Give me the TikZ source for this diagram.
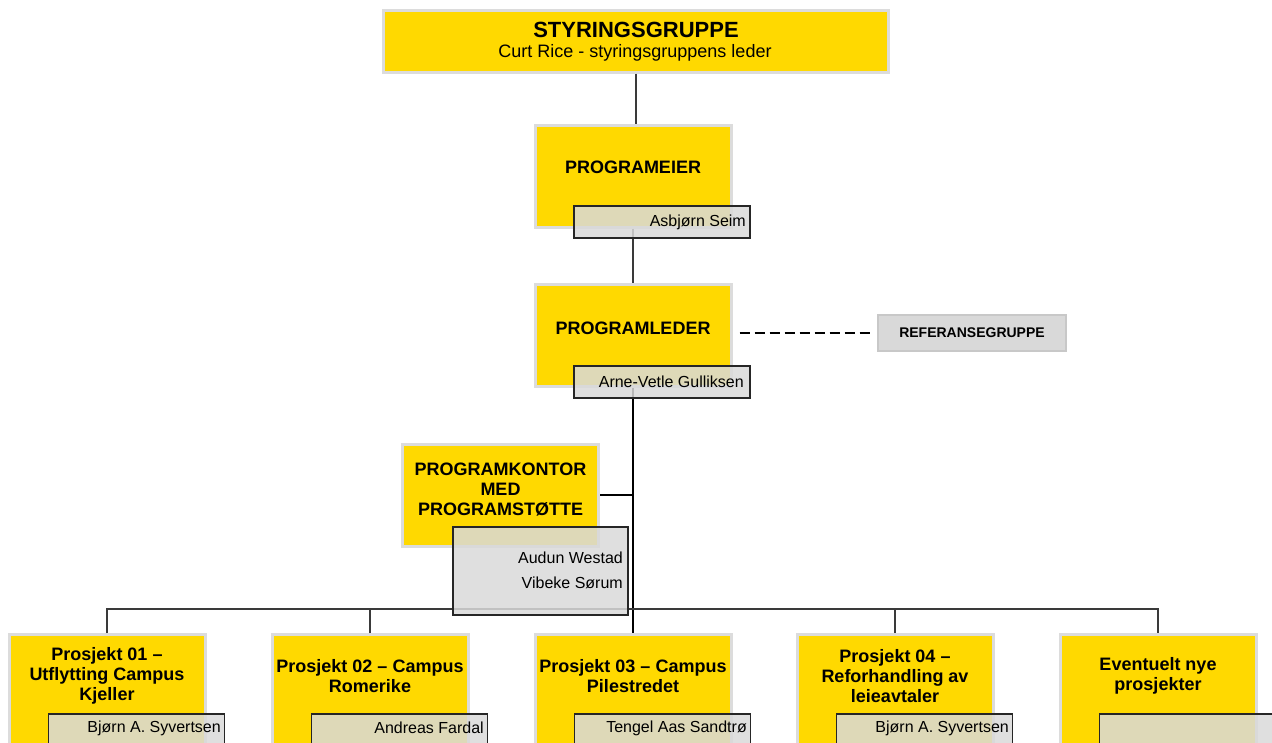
\documentclass[tikz,border=0pt]{standalone}
\usepackage{fontspec}
\setmainfont{Liberation Sans}
\definecolor{yel}{HTML}{FFD900}
\definecolor{ybord}{HTML}{DCDCDC}
\definecolor{ngray}{HTML}{D9D9D9}
\definecolor{nbord}{HTML}{262626}
\definecolor{lin}{HTML}{3A3A3A}
\definecolor{rbord}{HTML}{C8C8C8}
\begin{document}
\begin{tikzpicture}[x=1pt,y=-1pt,
  ybox/.style={fill=yel, draw=ybord, line width=3pt, minimum width=196pt, minimum height=102pt, inner sep=0pt},
  nbox/.style={fill=ngray, fill opacity=0.85, draw=nbord, line width=1.5pt, minimum width=176pt, minimum height=32pt, inner sep=0pt},
  btext/.style={font=\bfseries\fontsize{18}{20}\selectfont, align=center, inner sep=0pt},
  ntext/.style={font=\fontsize{16}{18}\selectfont, anchor=east, inner sep=0pt},
  conn/.style={draw=lin, line width=1.8pt}]
\useasboundingbox (0,0) rectangle (1272,742);

% boxes
\node[ybox, minimum width=505pt, minimum height=62pt] (styr) at (635.5,41) {};
\node[ybox] (pe) at (633,176) {};
\node[ybox] (pl) at (633,335.5) {};
\node[ybox] (pk) at (500.5,495) {};
\node[fill=ngray, draw=rbord, line width=2pt, minimum width=188pt, minimum height=36pt, inner sep=0pt] (rf) at (972,333) {};
\foreach \i/\cx in {1/107,2/370,3/633,4/895,5/1158}{
  \node[ybox, minimum height=120pt, anchor=north] (p\i) at (\cx,633) {};
}

% connectors
\draw[conn] ([xshift=3pt]pe.north |- styr.south) -- ([xshift=3pt]pe.north);
\draw[conn] (pe.south) -- (pl.north);
\draw[conn, draw=black] (pl.south) -- (p3.north);
\draw[conn, draw=black] (pk.east) -- (pk.east -| pl.south);
\draw[conn] (p1.north) |- ([yshift=24pt]p5.north) -- (p5.north);
\draw[conn] (p2.north) -- ([yshift=24pt]p2.north);
\draw[conn] (p4.north) -- ([yshift=24pt]p4.north);
\draw[line width=1.5pt, draw=black, dash pattern=on 10pt off 5pt] ([xshift=7pt]pl.east |- rf.west) -- ([xshift=-6pt]rf.west);

% name boxes
\node[nbox] (peN) at (662,222) {};
\node[nbox] (plN) at (662,382) {};
\node[nbox, minimum width=175pt, minimum height=88pt] (pkN) at (540.5,571) {};
\foreach \i/\cx in {1/107,2/370,3/633,4/895,5/1158}{
  \node[nbox, minimum height=60pt, anchor=north west] (n\i) at ([xshift=40pt,yshift=-80pt]p\i.north west) {};
}

% texts
\node[font=\bfseries\fontsize{22}{24}\selectfont, inner sep=0pt] (stT1) at (636,30) {STYRINGSGRUPPE};
\node[font=\fontsize{18}{20}\selectfont, inner sep=0pt] (stT2) at (635,53) {Curt Rice - styringsgruppens leder};
\node[btext] (peT) at (633,167) {PROGRAMEIER};
\node[btext] (plT) at (633,328) {PROGRAMLEDER};
\node[btext] (pkT) at (500.5,490) {PROGRAMKONTOR\\MED\\PROGRAMSTØTTE};
\node[font=\bfseries\fontsize{14}{16}\selectfont, inner sep=0pt] (rfT) at (rf.center) {REFERANSEGRUPPE};
\node[ntext] (peNT) at (746,222) {Asbjørn Seim};
\node[ntext] (plNT) at (744,382) {Arne-Vetle Gulliksen};
\node[ntext] (pkNT1) at (623,558) {Audun Westad};
\node[ntext] (pkNT2) at (623,583) {Vibeke Sørum};
\node[btext] (p1T) at (107,676) {Prosjekt 01 –\\Utflytting Campus\\Kjeller};
\node[btext] (p2T) at (370,676) {Prosjekt 02 – Campus\\Romerike};
\node[btext] (p3T) at (633,676) {Prosjekt 03 – Campus\\Pilestredet};
\node[btext] (p4T) at (895,676) {Prosjekt 04 –\\Reforhandling av\\leieavtaler};
\node[btext] (p5T) at (1158,676) {Eventuelt nye\\prosjekter};
\node[ntext] (n1T) at ([xshift=-4pt,yshift=-15pt]n1.north east) {Bjørn A. Syvertsen};
\node[ntext] (n2T) at ([xshift=-4pt,yshift=-15pt]n2.north east) {Andreas Fardal};
\node[ntext] (n3T) at ([xshift=-4pt,yshift=-15pt]n3.north east) {Tengel Aas Sandtrø};
\node[ntext] (n4T) at ([xshift=-4pt,yshift=-15pt]n4.north east) {Bjørn A. Syvertsen};
\end{tikzpicture}
\end{document}
